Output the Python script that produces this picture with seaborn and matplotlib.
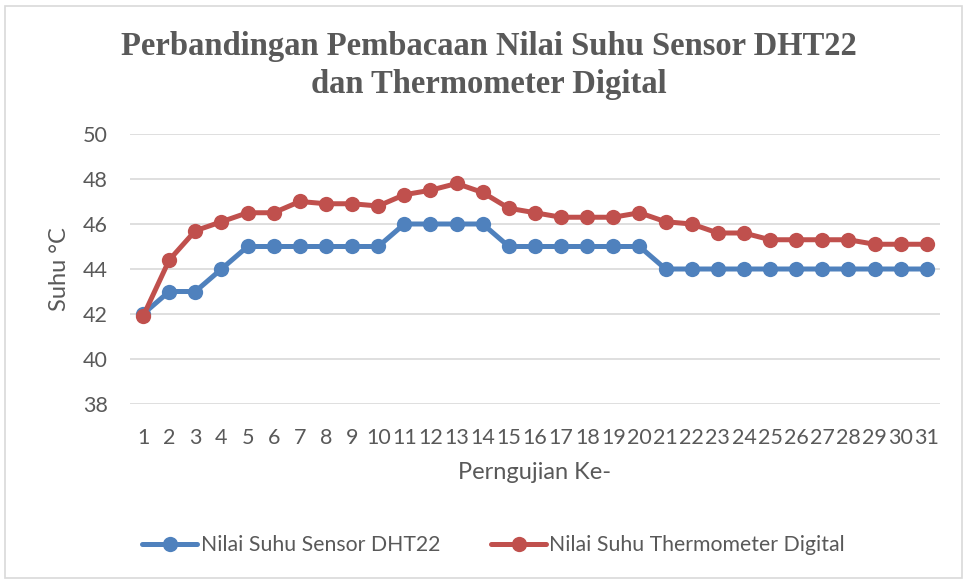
import matplotlib
matplotlib.use('Agg')
import matplotlib.pyplot as plt
import seaborn as sns
import pandas as pd
from matplotlib.patches import Rectangle

pengujian = list(range(1, 32))
dht22 = [42, 43, 43, 44, 45, 45, 45, 45, 45, 45, 46, 46, 46, 46, 45, 45, 45, 45, 45, 45,
         44, 44, 44, 44, 44, 44, 44, 44, 44, 44, 44]
thermo = [41.9, 44.4, 45.7, 46.1, 46.5, 46.5, 47.0, 46.9, 46.9, 46.8, 47.3, 47.5, 47.8, 47.4,
          46.7, 46.5, 46.3, 46.3, 46.3, 46.5, 46.1, 46.0, 45.6, 45.6, 45.3, 45.3, 45.3, 45.3,
          45.1, 45.1, 45.1]
series_names = ['Nilai Suhu Sensor DHT22', 'Nilai Suhu Thermometer Digital']

df = pd.DataFrame({
    'Perngujian Ke-': [str(p) for p in pengujian] * 2,
    'Suhu': dht22 + thermo,
    'Seri': [series_names[0]] * 31 + [series_names[1]] * 31,
})

sns.set_style('white')
plt.rcParams['font.family'] = ['Lato', 'DejaVu Sans']
text_col = '#595959'

fig = plt.figure(figsize=(9.64, 5.8), dpi=100)
ax = fig.add_axes([0.1349, 0.3034, 0.8401, 0.4656])

sns.lineplot(data=df, x='Perngujian Ke-', y='Suhu', hue='Seri', sort=False,
             palette=['#4F81BD', '#C0504D'], marker='o', markersize=11,
             markeredgewidth=0, linewidth=3.6, ax=ax, legend=True)

ax.set_ylim(38, 50)
ax.set_xlim(-0.5, 30.5)
ax.set_yticks(range(38, 51, 2))
ax.yaxis.grid(True, color='#D9D9D9', linewidth=1.2)
ax.set_axisbelow(True)
for s in ax.spines.values():
    s.set_visible(False)
ax.tick_params(axis='both', length=0, labelsize=15.5, labelcolor=text_col)
ax.tick_params(axis='x', pad=17)
ax.tick_params(axis='y', pad=16)
ax.set_xlabel('Perngujian Ke-', fontsize=17, color=text_col, labelpad=10)
ax.set_ylabel('Suhu °C', fontsize=17, color=text_col, labelpad=9)

fig.text(0.507, 0.887, 'Perbandingan Pembacaan Nilai Suhu Sensor DHT22\ndan Thermometer Digital',
         ha='center', va='center', fontsize=23.5, fontweight='bold', color=text_col,
         family='Liberation Serif', linespacing=1.28)

leg = ax.legend(loc='center', bbox_to_anchor=(0.512, 0.06), bbox_transform=fig.transFigure,
                ncol=2, frameon=False, fontsize=15.3, handlelength=2.6, handletextpad=0.15,
                columnspacing=2.4)
for t in leg.get_texts():
    t.set_color(text_col)

fig.patches.append(Rectangle((0.005, 0.004), 0.993, 0.985, transform=fig.transFigure,
                             fill=False, edgecolor='#D9D9D9', linewidth=1.2))

fig.savefig('out.png', dpi=100)
